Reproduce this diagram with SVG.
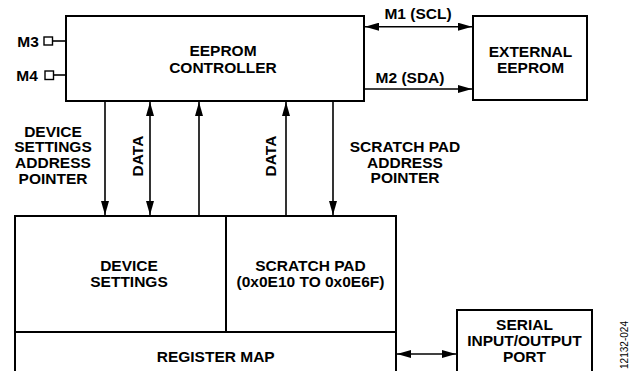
<svg xmlns="http://www.w3.org/2000/svg" width="629" height="371" viewBox="0 0 629 371">
<style>
.box{fill:#fff;stroke:#000;stroke-width:2}
.ln{fill:none;stroke:#000;stroke-width:1.6}
.t{font-family:"Liberation Sans",Arial,sans-serif;font-weight:bold;font-size:15.5px;fill:#000;text-anchor:middle}
.pin{fill:#fff;stroke:#000;stroke-width:1.4}
.fig{font-family:"Liberation Sans",Arial,sans-serif;font-size:10px;fill:#000;text-anchor:middle}
</style>
<defs>
<marker id="ah" viewBox="0 0 14 8" refX="14" refY="4" markerWidth="14" markerHeight="8" markerUnits="userSpaceOnUse" orient="auto-start-reverse">
<path d="M0,0 L14,4 L0,8 z" fill="#000"/>
</marker>
</defs>
<rect width="629" height="371" fill="#fff"/>
<g id="connectors">
<line class="ln" x1="365" y1="26.7" x2="472" y2="26.7" marker-start="url(#ah)" marker-end="url(#ah)"/>
<line class="ln" x1="365" y1="89" x2="472" y2="89" marker-end="url(#ah)"/>
<line class="ln" x1="105" y1="101" x2="105" y2="215" marker-end="url(#ah)"/>
<line class="ln" x1="150" y1="102" x2="150" y2="215" marker-start="url(#ah)" marker-end="url(#ah)"/>
<line class="ln" x1="199" y1="216" x2="199" y2="102" marker-end="url(#ah)"/>
<line class="ln" x1="286" y1="216" x2="286" y2="102" marker-end="url(#ah)"/>
<line class="ln" x1="333" y1="101" x2="333" y2="215" marker-end="url(#ah)"/>
<line class="ln" x1="397" y1="354" x2="456" y2="354" marker-start="url(#ah)" marker-end="url(#ah)"/>
<line class="ln" x1="52.5" y1="41" x2="66" y2="41"/>
<line class="ln" x1="53.5" y1="75" x2="66" y2="75"/>
<text class="t" x="418" y="19">M1 (SCL)</text>
<text class="t" x="410" y="83.3">M2 (SDA)</text>
<text class="t" x="53"><tspan x="53" y="136.5">DEVICE</tspan><tspan x="53" y="152.2">SETTINGS</tspan><tspan x="53" y="167.9">ADDRESS</tspan><tspan x="53" y="183.5">POINTER</tspan></text>
<text class="t" transform="translate(142.7,156) rotate(-90)" x="0" y="0">DATA</text>
<text class="t" transform="translate(276,156) rotate(-90)" x="0" y="0">DATA</text>
<text class="t"><tspan x="405" y="151.7">SCRATCH PAD</tspan><tspan x="405" y="167.5">ADDRESS</tspan><tspan x="405" y="183.3">POINTER</tspan></text>
</g>
<g id="m3">
<rect class="pin" x="44" y="37" width="8.5" height="8"/>
<text class="t" x="28" y="46.5">M3</text>
</g>
<g id="m4">
<rect class="pin" x="45" y="71" width="8.5" height="8.5"/>
<text class="t" x="27" y="80.5">M4</text>
</g>
<g id="eeprom-controller">
<rect class="box" x="66" y="16" width="298" height="85"/>
<text class="t"><tspan x="223" y="56">EEPROM</tspan><tspan x="223" y="72.7">CONTROLLER</tspan></text>
</g>
<g id="external-eeprom">
<rect class="box" x="473" y="16" width="114" height="84"/>
<text class="t"><tspan x="530.5" y="57.2">EXTERNAL</tspan><tspan x="530.5" y="73.2">EEPROM</tspan></text>
</g>
<g id="device-settings">
<rect class="box" x="15" y="216" width="211" height="116"/>
<text class="t"><tspan x="129" y="271">DEVICE</tspan><tspan x="129" y="287">SETTINGS</tspan></text>
</g>
<g id="scratch-pad">
<rect class="box" x="226" y="216" width="170" height="116"/>
<text class="t"><tspan x="310.5" y="271">SCRATCH PAD</tspan><tspan x="310.5" y="287">(0x0E10 TO 0x0E6F)</tspan></text>
</g>
<g id="register-map">
<rect class="box" x="15" y="332" width="381" height="50"/>
<text class="t" x="215.7" y="361.7">REGISTER MAP</text>
</g>
<g id="serial-port">
<rect class="box" x="457" y="310" width="135" height="72"/>
<text class="t"><tspan x="524.5" y="329.5">SERIAL</tspan><tspan x="524.5" y="345.5">INPUT/OUTPUT</tspan><tspan x="524.5" y="361.5">PORT</tspan></text>
</g>
<text class="fig" transform="translate(627.5,345) rotate(-90)" x="0" y="0" textLength="48" lengthAdjust="spacingAndGlyphs">12132-024</text>
</svg>
